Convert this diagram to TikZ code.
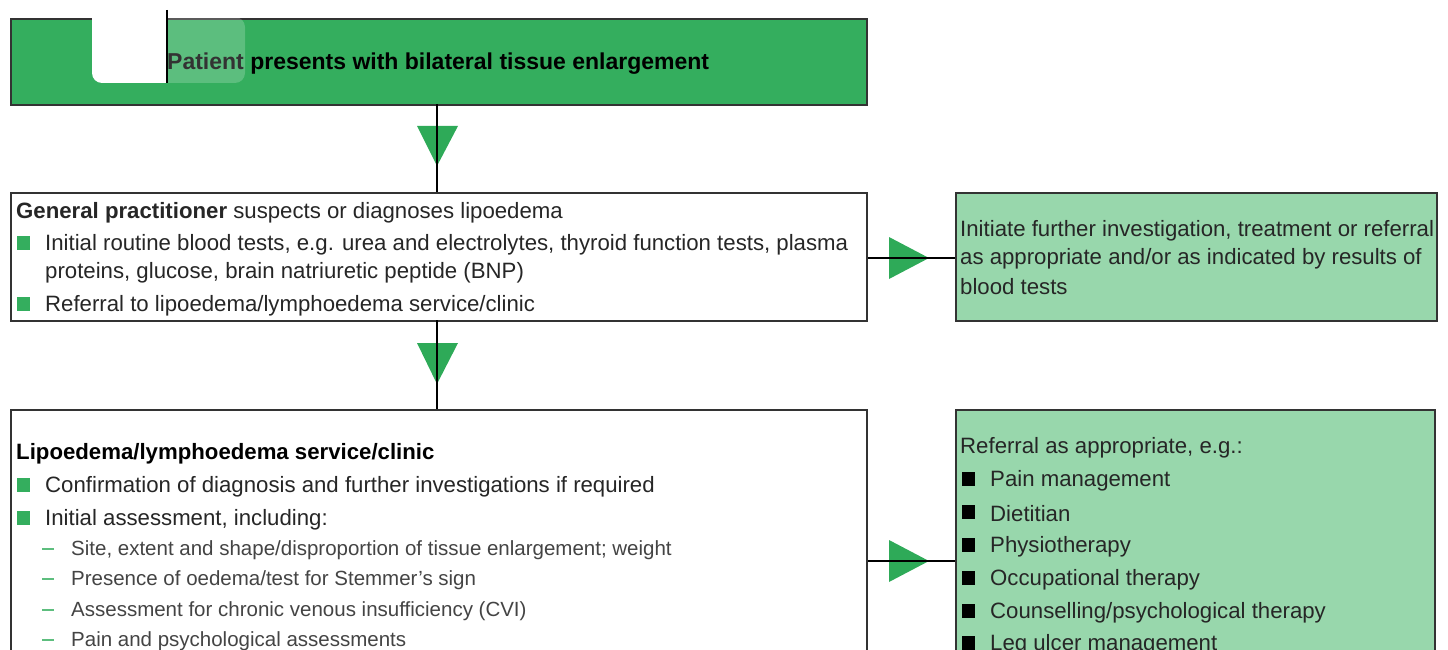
\documentclass[tikz,border=0pt]{standalone}
\usepackage{fontspec}
\setmainfont{Liberation Sans}
\usetikzlibrary{calc}
\definecolor{dkgreen}{HTML}{34AE5E}
\definecolor{ltgreen}{HTML}{98D7AC}
\definecolor{arrgreen}{HTML}{2EAA58}
\definecolor{bordergray}{HTML}{333333}
\definecolor{subgray}{HTML}{444444}
\tikzset{
  boxstyle/.style={draw=bordergray, line width=1.8pt, anchor=north west, inner sep=0pt},
  txt/.style={anchor=west, inner sep=0pt, yshift=-1.5pt, font=\fontsize{22.2}{25}\selectfont, text=black!85},
  subtxt/.style={anchor=west, inner sep=0pt, yshift=-1.5pt, font=\fontsize{20.5}{23}\selectfont, text=subgray},
  gbullet/.style={fill=dkgreen, minimum size=13.5pt, inner sep=0pt, anchor=center},
  kbullet/.style={fill=black, minimum size=13.5pt, inner sep=0pt, anchor=center},
  dashbul/.style={draw=dkgreen!80, line width=2pt},
  conn/.style={draw=black, line width=2.8pt},
  tri/.style={fill=arrgreen}
}
\begin{document}
\begin{tikzpicture}[x=1pt,y=-1pt]
\useasboundingbox (0,0) rectangle (1448,650);
\clip (0,0) rectangle (1448,650);
% boxes
\node[boxstyle, fill=dkgreen, minimum width=856pt, minimum height=86pt] (top) at (10,18) {};
\node[boxstyle, fill=white, minimum width=856pt, minimum height=128pt] (gp) at (10,192) {};
\node[boxstyle, fill=ltgreen, minimum width=481pt, minimum height=128pt] (inv) at (955,192) {};
\node[boxstyle, fill=white, minimum width=856pt, minimum height=300pt] (clinic) at (10,409) {};
\node[boxstyle, fill=ltgreen, minimum width=479pt, minimum height=300pt] (ref) at (955,409) {};
% connectors
\coordinate (c1) at (437,104);
\coordinate (c2) at (437,320);
\fill[tri] (417,126) -- (458,126) -- (437,166) -- cycle;
\fill[tri] (417,343) -- (458,343) -- (437,384) -- cycle;
\fill[tri] (889,237) -- (929,258) -- (889,279) -- cycle;
\fill[tri] (889,540) -- (929,561) -- (889,582) -- cycle;
\draw[conn] (c1) -- (c1 |- gp.north);
\draw[conn] (c2) -- (c2 |- clinic.north);
\draw[conn] (gp.east |- 0,258) -- (inv.west |- 0,258);
\draw[conn] (clinic.east |- 0,561) -- (ref.west |- 0,561);
% top text
\node[txt, font=\fontsize{23}{26}\selectfont\bfseries, text=black] (t1) at (167,62) {Patient presents with bilateral tissue enlargement};
% overlay artifacts
\begin{scope}
\clip (92,0) rectangle (167,100);
\fill[white, rounded corners=10pt] (92,-20) rectangle (200,83);
\end{scope}
\begin{scope}
\clip (167,0) rectangle (300,100);
\fill[white, opacity=0.2, rounded corners=10pt] (140,17) rectangle (245,83);
\end{scope}
\draw[black, line width=1.6pt] (167,10) -- (167,83);
% GP box
\node[txt] (g0) at (16,211) {\textbf{General practitioner} suspects or diagnoses lipoedema};
\node[gbullet] (gb1) at (23.5,243) {};
\node[txt] (g1) at (45,243) {Initial routine blood tests, e.g. urea and electrolytes, thyroid function tests, plasma};
\node[txt] (g2) at (45,271) {proteins, glucose, brain natriuretic peptide (BNP)};
\node[gbullet] (gb2) at (23.5,304) {};
\node[txt] (g3) at (45,304) {Referral to lipoedema/lymphoedema service/clinic};
% investigation box
\node[txt] (i1) at (960,229) {Initiate further investigation, treatment or referral};
\node[txt] (i2) at (960,257) {as appropriate and/or as indicated by results of};
\node[txt] (i3) at (960,285) {blood tests};
% clinic box
\node[txt, text=black] (l0) at (16,452) {\textbf{Lipoedema/lymphoedema service/clinic}};
\node[gbullet] (lb1) at (23.5,485) {};
\node[txt] (l1) at (45,485) {Confirmation of diagnosis and further investigations if required};
\node[gbullet] (lb2) at (23.5,518) {};
\node[txt] (l2) at (45,518) {Initial assessment, including:};
\foreach \yy/\tt [count=\k] in {549/{Site, extent and shape/disproportion of tissue enlargement; weight},579/{Presence of oedema/test for Stemmer's sign},610/{Assessment for chronic venous insufficiency (CVI)},640/{Pain and psychological assessments}}{
  \draw[dashbul] (42,\yy) -- (54,\yy);
  \node[subtxt] (s\k) at (71,\yy) {\tt};
}
% referral box
\node[txt] (r0) at (960,446) {Referral as appropriate, e.g.:};
\foreach \yy/\tt [count=\k] in {479/{Pain management},512/{Dietitian},545/{Physiotherapy},578/{Occupational therapy},611/{Counselling/psychological therapy},643/{Leg ulcer management}}{
  \node[kbullet] (rb\k) at (968.5,\yy) {};
  \node[txt] (r\k) at (990,\yy) {\tt};
}
\end{tikzpicture}
\end{document}
